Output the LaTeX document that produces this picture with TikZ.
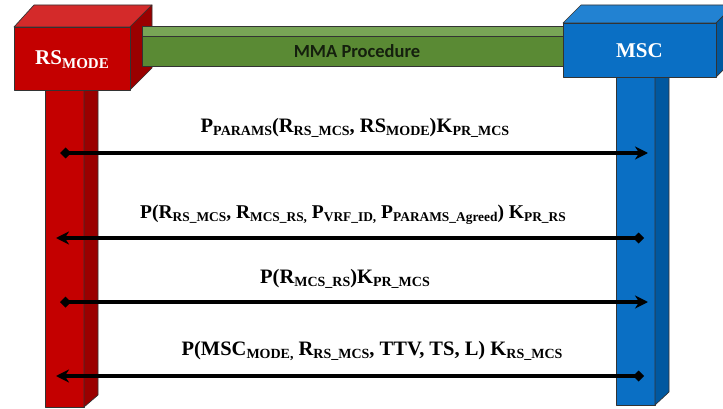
\documentclass[tikz,border=0pt]{standalone}
\usepackage{fontspec}
\setmainfont{Liberation Serif}
\newfontfamily\barfont{Carlito}
\usetikzlibrary{arrows.meta}

% subscript in a smaller size, dropped below the baseline
\def\subsz{14}
\newcommand\lo[1]{\raisebox{-3pt}{\fontsize{\subsz}{\subsz}\selectfont #1}}
\newcommand\bigsub[1]{\raisebox{-3.5pt}{\fontsize{15}{15}\selectfont #1}}

\definecolor{redfront}{HTML}{C40000}
\definecolor{redtop}{HTML}{D42A2A}
\definecolor{redside}{HTML}{9A0000}
\definecolor{bluefront}{HTML}{0A6FC4}
\definecolor{bluetop}{HTML}{2282D2}
\definecolor{blueside}{HTML}{0058A0}
\definecolor{greenfront}{HTML}{5A8A34}
\definecolor{greentop}{HTML}{78A556}
\definecolor{bartext}{HTML}{15200E}

\tikzset{
  face/.style={draw=black!80, line width=0.7pt, line join=round},
  msg/.style={font=\fontsize{20.5}{20.5}\selectfont\bfseries, anchor=base, inner sep=0pt},
  msgsmall/.style={msg, font=\fontsize{19.5}{19.5}\selectfont\bfseries\def\subsz{13.4}},
  boxlabel/.style={font=\fontsize{21}{21}\selectfont\bfseries, text=white, anchor=base, inner sep=0pt},
  link/.style={line width=3.5pt, draw=black},
  fwd/.style={link, {Diamond[length=11pt,width=11pt]}-{Stealth[length=13pt,width=13pt]}},
  back/.style={link, {Stealth[length=13pt,width=13pt]}-{Diamond[length=11pt,width=11pt]}},
}

\begin{document}
\begin{tikzpicture}[x=1pt,y=-1pt]
\clip (0,0) rectangle (723,409);
\fill[white] (0,0) rectangle (723,409);

% ---- RS pillar ----
\fill[face, fill=redfront] (45,90) rectangle (84,407);
\fill[face, fill=redside] (84,90) -- (98,90) -- (98,395) -- (84,407) -- cycle;

% ---- MSC pillar ----
\fill[face, fill=bluefront] (616,77) rectangle (655,405);
\fill[face, fill=blueside] (655,77) -- (669,77) -- (669,392) -- (655,405) -- cycle;

% ---- RS box ----
\filldraw[face, fill=redtop] (14,27) -- (34,5) -- (152,5) -- (130,27) -- cycle;
\filldraw[face, fill=redside] (130,27) -- (152,5) -- (152,68) -- (130,90) -- cycle;
\filldraw[face, fill=redfront] (14,27) rectangle (130,90);
\node[boxlabel] (rs) at (72,65) {RS\bigsub{MODE}};

% ---- MMA procedure bar ----
\filldraw[face, fill=greentop] (142,26) rectangle (566,36);
\filldraw[face, fill=greenfront] (142,36) rectangle (566,66);
\node[font=\barfont\fontsize{18.5}{18.5}\selectfont\bfseries, text=bartext, inner sep=0pt]
  (mma) at (357,51) {MMA Procedure};

% ---- MSC box ----
\filldraw[face, fill=bluetop] (563,23) -- (581,5) -- (734,5) -- (716,23) -- cycle;
\filldraw[face, fill=blueside] (716,23) -- (734,5) -- (734,59) -- (716,77) -- cycle;
\filldraw[face, fill=bluefront] (563,23) rectangle (716,77);
\node[boxlabel] (msc) at (639.5,58) {MSC};

% ---- message end points on the two pillars ----
\coordinate (a1) at (60,153);  \coordinate (b1) at (648,153);
\coordinate (a2) at (56,238);  \coordinate (b2) at (644,238);
\coordinate (a3) at (60,302);  \coordinate (b3) at (648,302);
\coordinate (a4) at (56,376);  \coordinate (b4) at (644,376);

% ---- messages ----
\node[msg] (m1) at (355,133) {P\lo{PARAMS}(R\lo{RS\_MCS}, RS\lo{MODE})K\lo{PR\_MCS}};
\draw[fwd] (a1) -- (b1);

\node[msgsmall] (m2) at (353,218) {P(R\lo{RS\_MCS}, R\lo{MCS\_RS,} P\lo{VRF\_ID,} P\lo{PARAMS\_Agreed}) K\lo{PR\_RS}};
\draw[back] (a2) -- (b2);

\node[msg] (m3) at (345,283) {P(R\lo{MCS\_RS})K\lo{PR\_MCS}};
\draw[fwd] (a3) -- (b3);

\node[msg] (m4) at (372,355) {P(MSC\lo{MODE,} R\lo{RS\_MCS}, TTV, TS, L) K\lo{RS\_MCS}};
\draw[back] (a4) -- (b4);
\end{tikzpicture}
\end{document}
